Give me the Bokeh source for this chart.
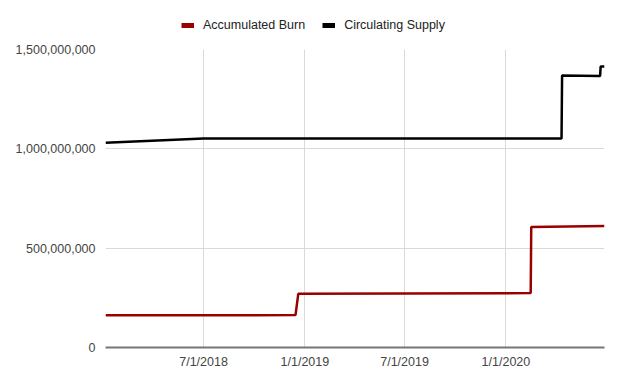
import pandas as pd
import numpy as np
from bokeh.plotting import figure
from bokeh.layouts import column
from bokeh.models import (Range1d, FixedTicker, NumeralTickFormatter, CustomJSTickFormatter,
                          Legend, LegendItem)
from bokeh.embed import file_html
from bokeh.resources import INLINE

# ---- data ----
burn_dates = ["2018-01-04", "2018-12-15", "2018-12-20", "2020-02-15", "2020-02-16", "2020-06-28"]
burn_values = [162e6, 163e6, 270e6, 274e6, 606e6, 611e6]

supply_dates = ["2018-01-04", "2018-07-01", "2020-04-11", "2020-04-12", "2020-06-20", "2020-06-21", "2020-06-28"]
supply_values = [1.030e9, 1.0525e9, 1.0525e9, 1.369e9, 1.367e9, 1.414e9, 1.414e9]

x_tick_dates = ["2018-07-01", "2019-01-01", "2019-07-01", "2020-01-01"]
y_ticks = [0, 500e6, 1000e6, 1500e6]

series_names = ["Accumulated Burn", "Circulating Supply"]
series_colors = ["#990000", "#000000"]

def to_ms(ds):
    return [pd.Timestamp(d).value / 1e6 for d in ds]

# ---- legend strip ----
lg = figure(width=620, height=39, output_backend="svg", toolbar_location=None,
            x_axis_location=None, y_axis_location=None,
            min_border_left=0, min_border_right=0, min_border_top=0, min_border_bottom=0,
            x_range=Range1d(0, 1), y_range=Range1d(0, 1))
lg.outline_line_color = None
lg.xgrid.visible = False
lg.ygrid.visible = False
d1 = lg.line([np.nan], [np.nan], line_color=series_colors[0], line_width=5)
d2 = lg.line([np.nan], [np.nan], line_color=series_colors[1], line_width=5)
legend = Legend(items=[LegendItem(label=series_names[0], renderers=[d1]),
                       LegendItem(label=series_names[1], renderers=[d2])],
                orientation="horizontal", location=(76, 7),
                glyph_width=13, glyph_height=14, label_height=14, label_standoff=9,
                spacing=17, padding=0, margin=0,
                border_line_color=None, background_fill_alpha=0,
                label_text_font="Liberation Sans", label_text_font_size="12.5px",
                label_text_color="#222222")
lg.add_layout(legend, "center")

# ---- main chart ----
p = figure(width=620, height=341, x_axis_type="datetime", output_backend="svg",
           toolbar_location=None,
           min_border_left=105, min_border_right=16, min_border_top=10, min_border_bottom=33)
p.x_range = Range1d(to_ms(["2018-01-04"])[0], to_ms(["2020-06-28"])[0])
p.y_range = Range1d(0, 1.5e9)
p.outline_line_color = None
p.background_fill_color = "white"
p.border_fill_color = "white"

p.line(to_ms(burn_dates), burn_values, line_color=series_colors[0], line_width=2.5)
p.line(to_ms(supply_dates), supply_values, line_color=series_colors[1], line_width=2.5)

p.xaxis.ticker = FixedTicker(ticks=to_ms(x_tick_dates))
p.xaxis.formatter = CustomJSTickFormatter(code="""
const d = new Date(tick);
return (d.getUTCMonth()+1) + "/" + d.getUTCDate() + "/" + d.getUTCFullYear();
""")
p.yaxis.ticker = FixedTicker(ticks=y_ticks)
p.yaxis.formatter = NumeralTickFormatter(format="0,0")

for ax in (p.xaxis[0], p.yaxis[0]):
    ax.major_tick_line_color = None
    ax.minor_tick_line_color = None
    ax.major_label_text_font = "Liberation Sans"
    ax.major_label_text_font_size = "12.5px"
    ax.major_label_text_color = "#444444"
p.yaxis.axis_line_color = None
p.yaxis.major_label_standoff = 4
p.xaxis.axis_line_color = "#777777"
p.xaxis.axis_line_width = 2
p.xaxis.major_label_standoff = 1

p.xgrid.grid_line_color = "#d9d9d9"
p.ygrid.grid_line_color = "#d9d9d9"
p.xgrid.grid_line_width = 1
p.ygrid.grid_line_width = 1

layout = column(lg, p, spacing=0)
open("out.html", "w").write(file_html(layout, INLINE))
